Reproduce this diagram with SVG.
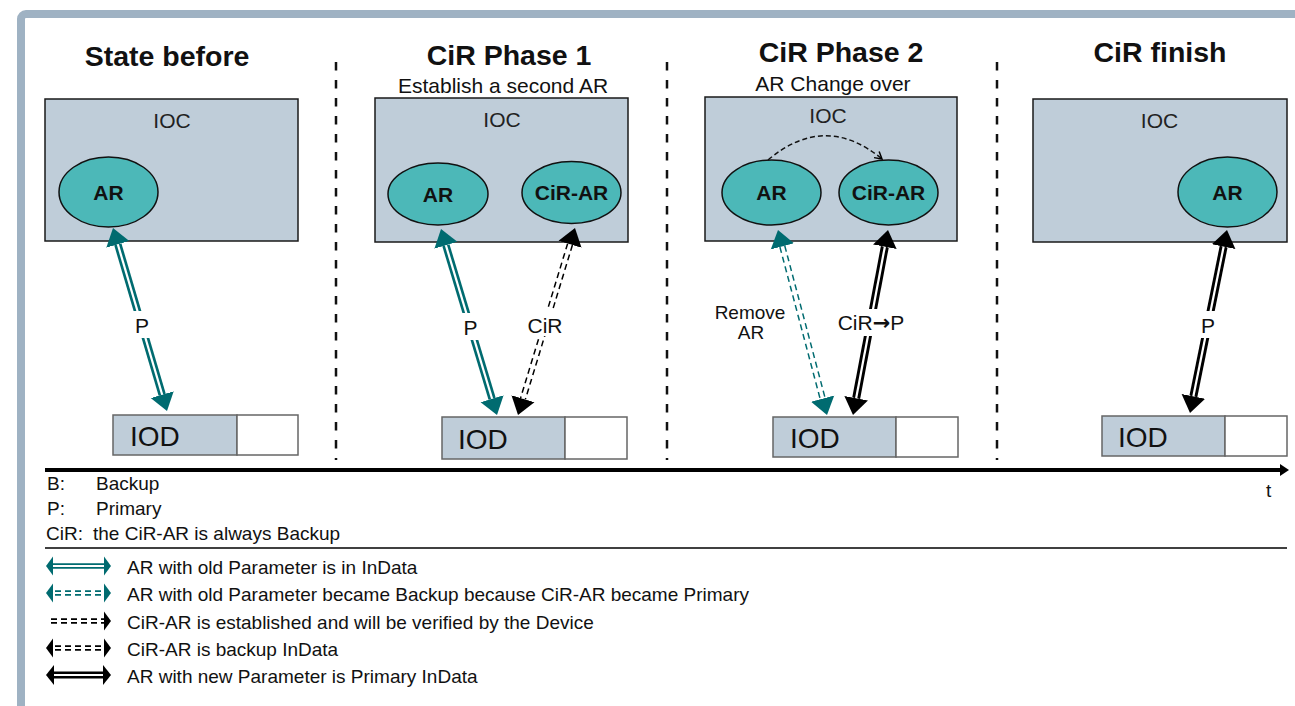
<svg xmlns="http://www.w3.org/2000/svg" width="1295" height="706" viewBox="0 0 1295 706">
<style>
text{font-family:"Liberation Sans",Arial,sans-serif;fill:#111}
.title{font-size:28.5px;font-weight:bold;text-anchor:middle}
.sub{font-size:21px;text-anchor:middle}
.ioct{font-size:21px;text-anchor:middle;fill:#222}
.ioc{fill:#bfcdd9;stroke:#1a1a1a;stroke-width:1.5}
.ar{fill:#4cb8b8;stroke:#111;stroke-width:1.5}
.art{font-size:21px;font-weight:bold;text-anchor:middle}
.iodl{fill:#bfcdd9;stroke:#666;stroke-width:1.5}
.iodr{fill:#fff;stroke:#666;stroke-width:1.5}
.iodt{font-size:28px}
.lbl{font-size:21px;text-anchor:middle}
.leg{font-size:19px}
.sep{stroke:#111;stroke-width:2.5;stroke-dasharray:8.5 9.5}
.tsol{fill:none;stroke:#006b70;stroke-width:7.5}
.bsol{fill:none;stroke:#000;stroke-width:8}
.tdash{fill:none;stroke:#006b70;stroke-width:6.5;stroke-dasharray:6 4}
.bdash{fill:none;stroke:#000;stroke-width:6.5;stroke-dasharray:6 4}
.inner{fill:none;stroke:#fff;stroke-width:2.2}
.innerd{fill:none;stroke:#fff;stroke-width:3.5}
.lt{fill:#006b70}
.lb{fill:#000}
</style>
<defs>
<marker id="ht" markerUnits="userSpaceOnUse" viewBox="0 -13 18 26" markerWidth="18" markerHeight="26" refX="0" refY="0" orient="auto-start-reverse">
<path d="M0,-12 L17,0 L0,12 z" fill="#006b70"/>
</marker>
<marker id="hb" markerUnits="userSpaceOnUse" viewBox="0 -13 18 26" markerWidth="18" markerHeight="26" refX="0" refY="0" orient="auto-start-reverse">
<path d="M0,-12 L17,0 L0,12 z" fill="#000"/>
</marker>
<marker id="hs" markerUnits="userSpaceOnUse" viewBox="-9 -6 10 12" markerWidth="10" markerHeight="12" refX="0" refY="0" orient="auto">
<path d="M-7,-4 L0,0 L-7,4" fill="none" stroke="#000" stroke-width="1.5"/>
</marker>
<marker id="htl" markerUnits="userSpaceOnUse" viewBox="0 -7 10 14" markerWidth="10" markerHeight="14" refX="0" refY="0" orient="auto">
<path d="M0,-6 L9,0 L0,6 z" fill="#000"/>
</marker>
</defs>

<rect x="0" y="0" width="1295" height="706" fill="#fff"/>
<rect id="frame" x="21" y="14" width="1400" height="800" rx="5" fill="#fff" stroke="#9fb2c3" stroke-width="8"/>

<g id="separators">
<line class="sep" x1="336" y1="62" x2="336" y2="460"/>
<line class="sep" x1="667" y1="62" x2="667" y2="460"/>
<line class="sep" x1="997" y1="62" x2="997" y2="460"/>
</g>

<g id="titles">
<text class="title" x="167" y="66">State before</text>
<text class="title" x="509" y="65">CiR Phase 1</text>
<text class="sub" x="503" y="93">Establish a second AR</text>
<text class="title" x="841" y="62">CiR Phase 2</text>
<text class="sub" x="833" y="91">AR Change over</text>
<text class="title" x="1160" y="62">CiR finish</text>
</g>

<g id="ioc1">
<rect class="ioc" x="45" y="99" width="253" height="142"/>
<text class="ioct" x="172" y="128">IOC</text>
</g>
<g id="ar1">
<ellipse class="ar" cx="108.5" cy="192" rx="49.5" ry="35"/>
<text class="art" x="108.5" y="199.5">AR</text>
</g>
<g id="iod1">
<rect class="iodl" x="113" y="415" width="124" height="40"/>
<rect class="iodr" x="237" y="415" width="61" height="40"/>
<text class="iodt" x="130" y="446">IOD</text>
</g>

<g id="ioc2">
<rect class="ioc" x="375" y="98" width="253" height="144"/>
<text class="ioct" x="502" y="127">IOC</text>
</g>
<g id="ar2">
<ellipse class="ar" cx="438" cy="194" rx="50" ry="31"/>
<text class="art" x="438" y="201.5">AR</text>
</g>
<g id="cirar2">
<ellipse class="ar" cx="571.5" cy="192.5" rx="49.5" ry="31"/>
<text class="art" x="571.5" y="200">CiR-AR</text>
</g>
<g id="iod2">
<rect class="iodl" x="442" y="417" width="123" height="42"/>
<rect class="iodr" x="565" y="417" width="62" height="42"/>
<text class="iodt" x="458" y="449">IOD</text>
</g>

<g id="ioc3">
<rect class="ioc" x="705" y="97" width="252" height="144"/>
<text class="ioct" x="828" y="123">IOC</text>
</g>
<g id="ar3">
<ellipse class="ar" cx="771.5" cy="192.5" rx="49.5" ry="32.5"/>
<text class="art" x="771.5" y="200">AR</text>
</g>
<g id="cirar3">
<ellipse class="ar" cx="888.5" cy="192.5" rx="49.5" ry="32.5"/>
<text class="art" x="888.5" y="200">CiR-AR</text>
</g>
<g id="iod3">
<rect class="iodl" x="773" y="417" width="123" height="40"/>
<rect class="iodr" x="896" y="417" width="62" height="40"/>
<text class="iodt" x="790" y="448">IOD</text>
</g>

<g id="ioc4">
<rect class="ioc" x="1033" y="99" width="254" height="143"/>
<text class="ioct" x="1159.5" y="128">IOC</text>
</g>
<g id="ar4">
<ellipse class="ar" cx="1227.5" cy="192" rx="49.5" ry="35"/>
<text class="art" x="1227.5" y="199.5">AR</text>
</g>
<g id="iod4">
<rect class="iodl" x="1102" y="416" width="123" height="40"/>
<rect class="iodr" x="1225" y="416" width="62" height="40"/>
<text class="iodt" x="1118" y="447">IOD</text>
</g>

<g id="connectors">
<!-- panel 1 -->
<path class="tsol" d="M117.81,244.30 L162.19,394.70" marker-start="url(#ht)" marker-end="url(#ht)"/>
<path class="inner" d="M117.81,244.30 L162.19,394.70"/>
<rect x="133" y="311" width="18" height="27" fill="#fff"/>
<text class="lbl" x="142" y="333">P</text>
<!-- panel 2 -->
<path class="tsol" d="M445.90,245.28 L492.10,398.72" marker-start="url(#ht)" marker-end="url(#ht)"/>
<path class="inner" d="M445.90,245.28 L492.10,398.72"/>
<rect x="461" y="313" width="19" height="27" fill="#fff"/>
<text class="lbl" x="470.5" y="335">P</text>
<path class="bdash" d="M570.04,244.26 L522.96,398.74" marker-start="url(#hb)" marker-end="url(#hb)"/>
<path class="innerd" d="M570.04,244.26 L522.96,398.74"/>
<rect x="525" y="309" width="40" height="27" fill="#fff"/>
<text class="lbl" x="545" y="333">CiR</text>
<!-- panel 3 -->
<path d="M768,160 Q825,112 882,159" fill="none" stroke="#111" stroke-width="1.5" stroke-dasharray="5 3" marker-end="url(#hs)"/>
<path class="tdash" d="M782.35,246.43 L822.65,398.57" marker-start="url(#ht)" marker-end="url(#ht)"/>
<path class="innerd" d="M782.35,246.43 L822.65,398.57"/>
<text class="lbl" x="750" y="319" style="font-size:19px">Remove</text>
<text class="lbl" x="751" y="339" style="font-size:19px">AR</text>
<path class="bsol" d="M884.84,246.70 L856.16,398.30" marker-start="url(#hb)" marker-end="url(#hb)"/>
<path class="inner" d="M884.84,246.70 L856.16,398.30"/>
<rect x="834" y="309" width="74" height="27" fill="#fff"/>
<text class="lbl" x="871" y="330">CiR<tspan style="font-family:'DejaVu Sans',sans-serif;font-weight:bold">→</tspan>P</text>
<!-- panel 4 -->
<path class="bsol" d="M1223.63,246.66 L1193.37,396.34" marker-start="url(#hb)" marker-end="url(#hb)"/>
<path class="inner" d="M1223.63,246.66 L1193.37,396.34"/>
<rect x="1199" y="311" width="18" height="27" fill="#fff"/>
<text class="lbl" x="1208" y="333">P</text>
</g>

<g id="timeline">
<line x1="45" y1="470" x2="1280" y2="470" stroke="#000" stroke-width="4" marker-end="url(#htl)"/>
<text class="leg" x="1266" y="497">t</text>
</g>

<g id="abbrev">
<text class="leg" x="47" y="490">B:</text>
<text class="leg" x="96" y="490">Backup</text>
<text class="leg" x="47" y="515">P:</text>
<text class="leg" x="96" y="515">Primary</text>
<text class="leg" x="46" y="540">CiR:</text>
<text class="leg" x="93" y="540">the CiR-AR is always Backup</text>
<line x1="45" y1="548" x2="1287" y2="548" stroke="#000" stroke-width="1.5"/>
</g>

<g id="legend">
<line x1="53" y1="566" x2="104" y2="566" stroke="#006b70" stroke-width="5.5"/>
<line x1="53" y1="566" x2="104" y2="566" stroke="#fff" stroke-width="2.2"/>
<polygon class="lt" points="46,566 53,556.5 53,575.5"/>
<polygon class="lt" points="111,566 104,556.5 104,575.5"/>
<text class="leg" x="127" y="574">AR with old Parameter is in InData</text>

<line x1="55" y1="593" x2="104" y2="593" stroke="#006b70" stroke-width="5.5" stroke-dasharray="6 4"/>
<line x1="53" y1="593" x2="104" y2="593" stroke="#fff" stroke-width="2.2"/>
<polygon class="lt" points="46,593 53,583.5 53,602.5"/>
<polygon class="lt" points="111,593 104,583.5 104,602.5"/>
<text class="leg" x="127" y="601">AR with old Parameter became Backup because CiR-AR became Primary</text>

<line x1="51" y1="621" x2="104" y2="621" stroke="#000" stroke-width="5.5" stroke-dasharray="6 4"/>
<line x1="51" y1="621" x2="104" y2="621" stroke="#fff" stroke-width="2.2"/>
<polygon class="lb" points="111,621 104,611.5 104,630.5"/>
<text class="leg" x="127" y="629">CiR-AR is established and will be verified by the Device</text>

<line x1="55" y1="648" x2="104" y2="648" stroke="#000" stroke-width="5.5" stroke-dasharray="6 4"/>
<line x1="53" y1="648" x2="104" y2="648" stroke="#fff" stroke-width="2.2"/>
<polygon class="lb" points="46,648 53,638.5 53,657.5"/>
<polygon class="lb" points="111,648 104,638.5 104,657.5"/>
<text class="leg" x="127" y="656">CiR-AR is backup InData</text>

<line x1="54" y1="675" x2="103" y2="675" stroke="#000" stroke-width="7"/>
<line x1="54" y1="675" x2="103" y2="675" stroke="#fff" stroke-width="2"/>
<polygon class="lb" points="46,675 54,665 54,685"/>
<polygon class="lb" points="111,675 103,665 103,685"/>
<text class="leg" x="127" y="683">AR with new Parameter is Primary InData</text>
</g>
</svg>
